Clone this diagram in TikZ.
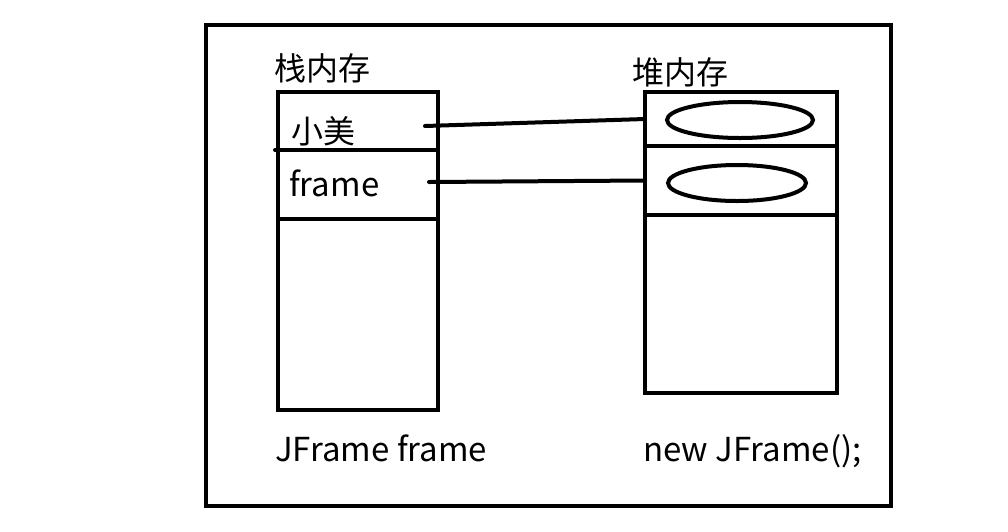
\documentclass[tikz,border=0pt]{standalone}
\usepackage{fontspec}
\setmainfont{Noto Sans CJK SC}
\usetikzlibrary{positioning, shapes.geometric}

\begin{document}
\begin{tikzpicture}[x=1pt, y=-1pt,
	cell/.style={draw, line width=4pt, inner sep=0pt, outer sep=0pt},
	oval/.style={draw, ellipse, line width=4pt, inner sep=0pt},
	cn/.style={inner sep=0pt, font=\fontsize{32}{36}\selectfont},
	code/.style={inner sep=0pt, anchor=base west, font=\fontsize{33}{38}\selectfont}]
	\useasboundingbox (0,0) rectangle (1008,531);
	\draw [line width=4pt] (206,25) rectangle (891,506);

	% stack
	\node (s1) [cell, minimum width=160pt, minimum height=58pt, anchor=north west] at (278,92) {};
	\node (s2) [cell, minimum width=160pt, minimum height=69pt, below = 0pt of s1] {};
	\node (s3) [cell, minimum width=160pt, minimum height=191pt, below = 0pt of s2] {};
	\node (stack) [cn] at (322,68) {栈内存};
	\node (xm) [cn] at (323,131) {小美};
	\node (fr) [code] at (289,196) {frame};
	\node (decl) [code] at (275,461) {JFrame frame};
	\draw [line width=4pt, line cap=round] (s1.south west) -- ++(-3,0);

	% heap
	\node (h1) [cell, minimum width=192pt, minimum height=54pt, anchor=north west] at (645,92) {};
	\node (h2) [cell, minimum width=192pt, minimum height=69pt, below = 0pt of h1] {};
	\node (h3) [cell, minimum width=192pt, minimum height=178pt, below = 0pt of h2] {};
	\node (heap) [cn] at (680,72) {堆内存};
	\node (o1) [oval, minimum width=146pt, minimum height=36pt] at (740,120) {};
	\node (o2) [oval, minimum width=138pt, minimum height=36pt] at (737,183) {};
	\node (new) [code] at (643,461) {new JFrame();};

	% references
	\coordinate (r1) at (425,126);
	\coordinate (r2) at (429,182);
	\draw [line width=4pt, line cap=round] (r1) -- (h1.west);
	\draw [line width=4pt, line cap=round] (r2) -- (h2.west);
\end{tikzpicture}
\end{document}
